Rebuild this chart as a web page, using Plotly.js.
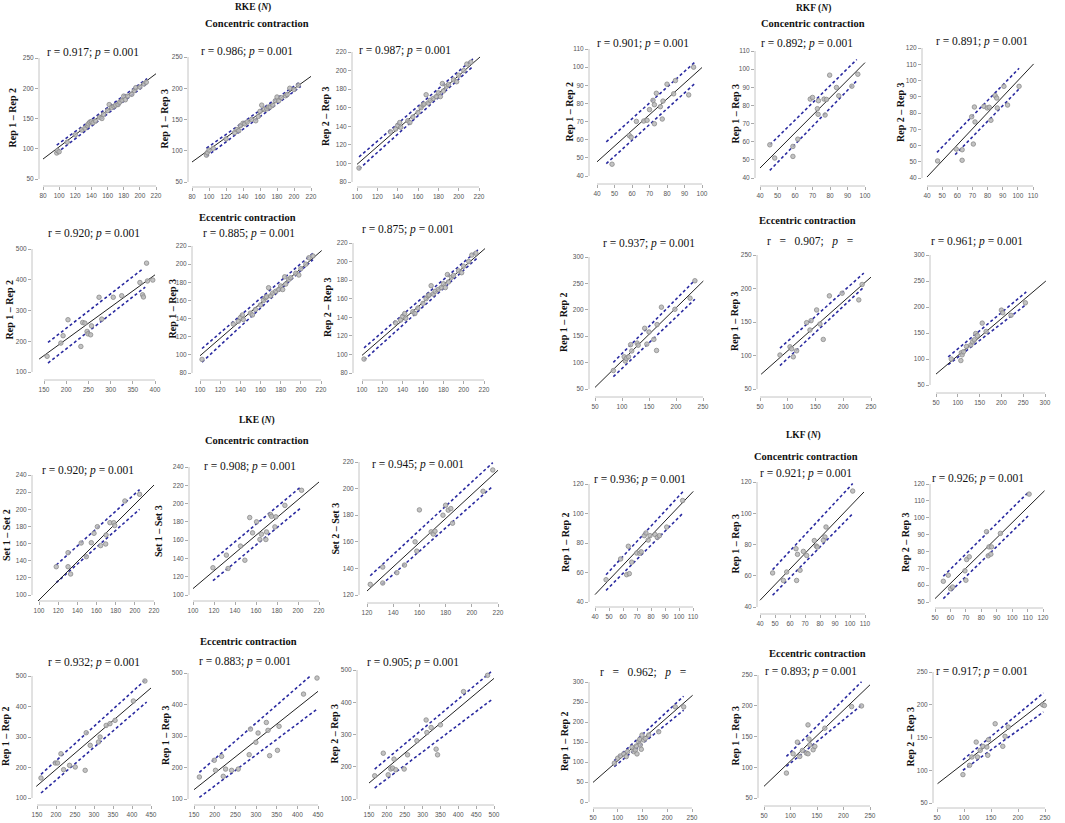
<!DOCTYPE html>
<html><head><meta charset="utf-8">
<script src="https://cdn.plot.ly/plotly-3.0.1.min.js"></script>
<style>html,body{margin:0;padding:0;background:#fff}#chart{width:1065px;height:823px}</style>
</head><body><div id="chart"></div>
<script>
// ---------- DATA ----------
// fit = [[x0,x1],[y0,y1]], up/lo = [[x0,x1],[y0,y1]]
// RKE concentric
const rkeC12x = [97,98,100,110,120,128,132,135,136,138,140,142,145,150,153,155,160,162,165,168,170,173,175,178,180,182,185,190,193,195,200,205,208];
const rkeC12y = [93,97,95,111,123,131,134,138,141,144,145,143,146,152,150,157,163,173,168,170,172,173,177,180,187,181,187,190,196,201,202,207,210];
const rkeC12fit = [[80,220],[83,224]], rkeC12up = [[97,209],[106,216]], rkeC12lo = [[97,209],[93,208]];
const rkeC13x = [97,98,100,105,120,130,133,135,137,140,142,145,150,155,158,160,162,165,168,170,172,175,178,180,182,185,190,192,195,200,205];
const rkeC13y = [93,97,101,104,119,129,134,132,140,144,143,146,150,148,155,163,173,166,167,170,170,173,180,186,180,185,188,190,200,198,205];
const rkeC13fit = [[80,220],[82,219]], rkeC13up = [[97,208],[104,211]], rkeC13lo = [[97,208],[91,203]];
const rkeC23x = [102,133,138,140,142,143,150,152,155,160,163,165,166,168,170,172,175,178,180,182,184,185,188,190,195,198,200,205,208,212];
const rkeC23y = [95,134,137,141,144,139,146,144,150,155,160,163,164,174,165,168,170,172,176,172,186,178,183,185,190,188,195,200,207,209];
const rkeC23fit = [[100,221],[99,214.6]], rkeC23up = [[102,214],[107,212.5]], rkeC23lo = [[102,214],[94,204.5]];
// RKF concentric
const rkfC12x = [48.6,58.5,59.5,62.5,66.7,68.6,70,72,72.8,72.8,73.9,76.2,77.3,77.7,80,83.8,84.8,92.4,95.2];
const rkfC12y = [46.5,62.3,61.4,70.1,70.3,70.7,76.6,81.7,79.3,68.8,85.6,78.2,71.4,81.3,90.6,85.3,92.6,84.7,100];
const rkfC12fit = [[40,100],[47.8,99.8]], rkfC12up = [[45.3,96.2],[58.8,103]], rkfC12lo = [[45.3,96.2],[46.8,91.2]];
const rkfC13x = [45.6,48.4,58.8,58.8,61.6,68.7,70,72.8,73.2,73.4,76.6,77.2,78,79.8,83.7,85,92.5,95.9];
const rkfC13y = [58.3,51,57.4,51.9,61.4,83.5,84.4,78.2,75.1,82.6,83.5,74.7,83.3,96.7,89.9,85.3,90.6,97.2];
const rkfC13fit = [[40,100],[45.5,103.6]], rkfC13up = [[45.6,95.3],[58.3,105.3]], rkfC13lo = [[45.6,95.3],[44.2,93.6]];
const rkfC23x = [47,59.3,63.2,63.2,69.5,70.6,71.3,71.7,77.6,79.8,81.1,82.2,85,86,86.4,90.8,93.2,100.8];
const rkfC23y = [50.5,57.8,50.9,57.4,77.7,60.9,83.7,74.5,84.1,83.1,83.5,75.5,90.7,89.2,83.1,96.4,84.9,96.4];
const rkfC23fit = [[40,110.4],[40.6,110.2]], rkfC23up = [[46.6,100.8],[55.8,107.5]], rkfC23lo = [[58.6,100.8],[54.4,94.8]];
// RKE eccentric
const rkeE12x = [157,188,193,204,233,237,242,247,249,255,257,274,280,306,325,366,372,374,381,383,395];
const rkeE12y = [151,194,218,270,183,261,259,232,224,221,250,343,272,343,348,391,351,344,454,396,399];
const rkeE12fit = [[139,400],[142,416]], rkeE12up = [[159,374],[196,437]], rkeE12lo = [[159,378],[129,376]];
const rkeE13x = [102,133,138,140,142,143,150,152,155,160,163,165,166,168,170,172,175,178,180,182,184,185,188,190,195,198,200,205,208,212];
const rkeE13y = [95,134,137,141,144,139,146,144,150,155,160,163,164,174,165,168,170,172,176,172,186,178,183,185,190,188,195,200,207,209];
const rkeE13fit = [[100,220.7],[99,215]], rkeE13up = [[102,212],[107,212]], rkeE13lo = [[102,212],[92,205]];
const rkeE23x = [102,133,138,140,142,143,150,152,155,160,163,165,166,168,170,172,175,178,180,182,184,185,188,190,195,198,200,205,208,212];
const rkeE23y = [95,134,137,141,144,139,146,144,150,155,160,163,164,174,165,168,170,172,176,172,186,178,183,185,190,188,195,200,207,209];
const rkeE23fit = [[100,221],[99,214]], rkeE23up = [[102,214],[107,212.5]], rkeE23lo = [[102,214],[94,204.5]];
// RKF eccentric
const rkfE12x = [84,104,106,108,112,116,118,128,130,142,146,150,159,164,165,173,198,226,235];
const rkfE12y = [85,111,103,108,111,134,122,137,133,165,135,158,144,123,172,205,201,222,255];
const rkfE12fit = [[50,250.6],[53,254.5]], rkfE12up = [[84,235],[100.5,256]], rkfE12lo = [[84,235],[73.4,220]];
const rkfE13x = [86,104,107,110,116,134,140,142,152,158,164,175,198,228,234];
const rkfE13y = [100.7,113,110,98,107,149,138,152,168,147,124,189,193,183,206];
const rkfE13fit = [[52,250],[72,217]], rkfE13up = [[86,237],[111,223]], rkfE13lo = [[86,237],[85,202]];
const rkfE23x = [85,107,108,110,113,120,130,134,138,141,145,156,165,200,203,222,255];
const rkfE23y = [100,97,112,108,114,124,127,133,137,149,145,169,153,194,189,184,208];
const rkfE23fit = [[50,302],[71,250]], rkfE23up = [[78,257],[104,229]], rkfE23lo = [[78,257],[89,205]];
// LKE concentric
const lkeC12x = [118,130.3,130.3,133,144,149.4,154.6,157.4,160.9,164.3,170,169.6,174,178,179,189.6,205];
const lkeC12y = [133,149.4,133,124.5,160.7,144.7,161,172,179.7,157.6,170,159.5,184.4,184.4,181,209.7,217.5];
const lkeC12fit = [[99,220],[93,228.3]], lkeC12up = [[118,205],[135,223]], lkeC12lo = [[118,205],[114.4,200]];
const lkeC13x = [119,131.8,133.4,145.2,149.4,154,156.7,160.5,163.7,165.2,169.4,170,173.8,174.8,178,178.9,187.5,203.4];
const lkeC13y = [129.8,143.6,129,153.5,138,184.7,168,180,160.7,166.5,160.7,169,188,186,174.5,185.5,198,214.5];
const lkeC13fit = [[100,220],[107,223.6]], lkeC13up = [[119,203.4],[138,219]], lkeC13lo = [[119,203.4],[115.6,196]];
const lkeC23x = [122.5,132,132,142.8,148.6,156.7,158,160,169,170.6,171.9,178,180,182,184,185.3,208.6,216];
const lkeC23y = [128,141,129,136.8,142.5,160,153,184,167.5,165.8,168,180,187.5,183.8,185,174,198,214];
const lkeC23fit = [[120,220],[123,213.8]], lkeC23up = [[122.5,216],[134.5,219.5]], lkeC23lo = [[131.4,216],[128,201.8]];
// LKF concentric
const lkfC12x = [47.9,58.3,62.6,63.8,64.5,66.2,69.8,72,73,75.2,76.4,78,79.3,82.9,84.5,86,91.2,102.6];
const lkfC12y = [55.1,69.2,58.5,77.8,59.2,67,73.2,73,74,85,86.8,82,85,85.7,83.8,85,90.8,108.8];
const lkfC12fit = [[40,110.2],[45,115]], lkfC12up = [[47.9,103],[58.5,115]], lkfC12lo = [[47.9,103],[47.9,100.4]];
const lkfC13x = [48.4,55.6,57.8,64,65,66.7,64.4,68.9,71.1,76.2,77.5,78.2,83.3,84,82.2,101.8];
const lkfC13y = [61.8,57,62.4,77.3,73.7,63.5,57,75.6,73,82.5,79,78.4,84.8,91.2,82.7,114.2];
const lkfC13fit = [[40,109.3],[44.3,113.6]], lkfC13up = [[48.4,101.8],[63.9,119]], lkfC13lo = [[48.4,101.8],[47.5,99.7]];
const lkfC23x = [55.4,58.6,60.1,61.4,69.4,70.5,72.2,70,83.4,84.5,86.2,85,86.6,92.4,111];
const lkfC23y = [62.3,65.9,57.9,58.9,68.5,75.2,76.8,62.9,91.7,77.4,78.4,82.7,82.7,90.7,114];
const lkfC23fit = [[50,121],[52,116]], lkfC23up = [[55.4,110.3],[65.3,114.9]], lkfC23lo = [[55.4,110.3],[52,101]];
// LKE eccentric
const lkeE12x = [160.5,198,204,213,220,235.7,250.6,276.8,279.5,290,311.8,316,332,342,355.4,403.6,434];
const lkeE12y = [165.6,214.8,214.8,245,193,207,201.6,190.7,314,272.7,283.6,300,338,343.7,354.6,418,483.6];
const lkeE12fit = [[148,450],[138,460.7]], lkeE12up = [[160.5,438.6],[177.6,491]], lkeE12lo = [[160.5,438.6],[116.4,414.8]];
const lkeE13x = [163,199,202,216.8,220.8,226.4,241,257,283.5,286.7,299.6,305,325,329,333,351.9,355.8,415,447.6];
const lkeE13y = [169.8,222.8,191,235.4,172,195,191,195,240.7,322,280,309.5,343,318,237.6,254.5,330.7,433,484];
const lkeE13fit = [[150,450],[129.6,441.8]], lkeE13up = [[163,430],[184.7,489]], lkeE13lo = [[163,446],[105,383.6]];
const lkeE23x = [165.9,190,203.7,211,215.9,220,225,248.5,257.9,284,310,312,324,338,342,350,414.7,481.9];
const lkeE23y = [172,242,175,193,196,223.7,190.7,192.8,237,280.4,345,306,321.6,254.6,237,330,433,483.5];
const lkeE23fit = [[150,500],[149.5,474]], lkeE23up = [[165.9,492.5],[192.8,494.8]], lkeE23lo = [[165.9,492.5],[134,407]];
// LKF eccentric
const lkfE12x = [93.1,99.8,105.2,112,117.3,120,128.8,132.2,135.5,137.5,138.9,142.3,144.3,145.6,147.6,149,152.4,155.7,162.5,182.7,216.3,233.2];
const lkfE12y = [97,109.4,115.2,120.2,113.5,126,136.7,126,130,140,120.2,150.8,156.6,142.5,131.8,167.4,155,159,167.4,175.7,237.8,237.8];
const lkfE12fit = [[50,251.3],[49,266.8]], lkfE12up = [[93,233],[103.6,264.4]], lkfE12lo = [[93,233],[88.7,229.5]];
const lkfE13x = [92.3,104.9,113,117.5,122.5,130,133,133,135,136.4,142.7,145.9,164.8,215.3,234];
const lkfE13y = [90.5,121.9,140.8,117.6,127.3,123,121.9,168.9,145.7,136.5,128.4,133.8,163.5,198.6,199.7];
const lkfE13fit = [[50,250],[69,234]], lkfE13up = [[92.3,234],[117.6,239]], lkfE13lo = [[92.3,234],[101.4,201]];
const lkfE23x = [98,110.3,114.6,122.6,125,130,135,142.3,144,145.4,157.7,171.8,176,182,245.7,248.8];
const lkfE23y = [93.3,107.5,120.2,143,120.2,130.4,136.5,135.5,122.8,146.7,171,136.5,151.8,166,200,199];
const lkfE23fit = [[51,252],[79.5,207.8]], lkfE23up = [[98,247],[116,218]], lkfE23lo = [[98,247],[100,189]];

// tick specs [first, last, step]
const xTicks = [[80,220,20],[80,220,20],[100,220,20],[40,100,10],[40,100,10],[40,110,10],
  [150,400,50],[100,220,20],[100,220,20],[50,250,50],[50,250,50],[50,300,50],
  [100,220,20],[100,220,20],[120,220,20],[40,110,10],[40,110,10],[50,120,10],
  [150,450,50],[150,450,50],[150,500,50],[50,250,50],[50,250,50],[50,250,50]];
const yTicks = [[50,250,50],[50,250,50],[80,220,20],[40,110,10],[40,110,10],[40,120,10],
  [100,500,100],[80,220,20],[80,220,20],[50,300,50],[50,250,50],[50,300,50],
  [100,240,20],[100,240,20],[120,220,20],[40,120,20],[40,120,20],[50,120,10],
  [100,500,100],[100,500,100],[100,500,100],[0,300,50],[50,250,50],[50,250,50]];

const NB = '\u00a0';
const panelTitles = [
  'r = 0.917; <i>p</i> = 0.001','r = 0.986; <i>p</i> = 0.001','r = 0.987; <i>p</i> = 0.001',
  'r = 0.901; <i>p</i> = 0.001','r = 0.892; <i>p</i> = 0.001','r = 0.891; <i>p</i> = 0.001',
  'r = 0.920; <i>p</i> = 0.001','r = 0.885; <i>p</i> = 0.001','r = 0.875; <i>p</i> = 0.001',
  'r = 0.937; <i>p</i> = 0.001','r'+NB+NB+NB+'='+NB+NB+NB+'0.907;'+NB+NB+NB+'<i>p</i>'+NB+NB+NB+'=','r = 0.961; <i>p</i> = 0.001',
  'r = 0.920; <i>p</i> = 0.001','r = 0.908; <i>p</i> = 0.001','r = 0.945; <i>p</i> = 0.001',
  'r = 0.936; <i>p</i> = 0.001','r = 0.921; <i>p</i> = 0.001','r = 0.926; <i>p</i> = 0.001',
  'r = 0.932; <i>p</i> = 0.001','r = 0.883; <i>p</i> = 0.001','r = 0.905; <i>p</i> = 0.001',
  'r'+NB+NB+NB+'='+NB+NB+NB+'0.962;'+NB+NB+NB+'<i>p</i>'+NB+NB+NB+'=','r = 0.893; <i>p</i> = 0.001','r = 0.917; <i>p</i> = 0.001'];
const yLabels = ['Rep 1 – Rep 2','Rep 1 – Rep 3','Rep 2 – Rep 3','Rep 1 – Rep 2','Rep 1 – Rep 3','Rep 2 – Rep 3',
  'Rep 1 – Rep 2','Rep 1 – Rep 3','Rep 2 – Rep 3','Rep 1 – Rep 2','Rep 1 – Rep 3','',
  'Set 1 – Set 2','Set 1 – Set 3','Set 2 – Set 3','Rep 1 – Rep 2','Rep 1 – Rep 3','Rep 2 – Rep 3',
  'Rep 1 – Rep 2','Rep 1 – Rep 3','Rep 2 – Rep 3','Rep 1 – Rep 2','Rep 1 – Rep 3','Rep 2 – Rep 3'];
const headings = ['<b>RKE (<i>N</i>)</b>','<b>Concentric contraction</b>','<b>Eccentric contraction</b>',
  '<b>LKE (<i>N</i>)</b>','<b>Concentric contraction</b>','<b>Eccentric contraction</b>',
  '<b>RKF (<i>N</i>)</b>','<b>Concentric contraction</b>','<b>Eccentric contraction</b>',
  '<b>LKF (<i>N</i>)</b>','<b>Concentric contraction</b>','<b>Eccentric contraction</b>'];

const series = [
  [rkeC12x,rkeC12y,rkeC12fit,rkeC12up,rkeC12lo],[rkeC13x,rkeC13y,rkeC13fit,rkeC13up,rkeC13lo],[rkeC23x,rkeC23y,rkeC23fit,rkeC23up,rkeC23lo],
  [rkfC12x,rkfC12y,rkfC12fit,rkfC12up,rkfC12lo],[rkfC13x,rkfC13y,rkfC13fit,rkfC13up,rkfC13lo],[rkfC23x,rkfC23y,rkfC23fit,rkfC23up,rkfC23lo],
  [rkeE12x,rkeE12y,rkeE12fit,rkeE12up,rkeE12lo],[rkeE13x,rkeE13y,rkeE13fit,rkeE13up,rkeE13lo],[rkeE23x,rkeE23y,rkeE23fit,rkeE23up,rkeE23lo],
  [rkfE12x,rkfE12y,rkfE12fit,rkfE12up,rkfE12lo],[rkfE13x,rkfE13y,rkfE13fit,rkfE13up,rkfE13lo],[rkfE23x,rkfE23y,rkfE23fit,rkfE23up,rkfE23lo],
  [lkeC12x,lkeC12y,lkeC12fit,lkeC12up,lkeC12lo],[lkeC13x,lkeC13y,lkeC13fit,lkeC13up,lkeC13lo],[lkeC23x,lkeC23y,lkeC23fit,lkeC23up,lkeC23lo],
  [lkfC12x,lkfC12y,lkfC12fit,lkfC12up,lkfC12lo],[lkfC13x,lkfC13y,lkfC13fit,lkfC13up,lkfC13lo],[lkfC23x,lkfC23y,lkfC23fit,lkfC23up,lkfC23lo],
  [lkeE12x,lkeE12y,lkeE12fit,lkeE12up,lkeE12lo],[lkeE13x,lkeE13y,lkeE13fit,lkeE13up,lkeE13lo],[lkeE23x,lkeE23y,lkeE23fit,lkeE23up,lkeE23lo],
  [lkfE12x,lkfE12y,lkfE12fit,lkfE12up,lkfE12lo],[lkfE13x,lkfE13y,lkfE13fit,lkfE13up,lkfE13lo],[lkfE23x,lkfE23y,lkfE23fit,lkfE23up,lkfE23lo]];

// ---------- LAYOUT GEOMETRY (pixels) ----------
// [xPix first,last], [yPix first(bottom),last(top)], leftAxisX, bottomAxisY, titleX, titleY, ylabelX
const geo = [
  [[43,156],[179,58],39,186,93,53,12],[[192,311],[182,57],188,187,247,52,164],[[357,479],[182,52],352,187,405,51,325],
  [[597,702],[176,49],589,184,643,43,569],[[760,865],[178,51],755,186,807,43,735],[[927,1033],[178,48],922,186,982,41,900],
  [[44,155],[372,249],32,380,94,234,9],[[200,321],[373,246],192,380,249,233,172],[[362,484],[373,243],353,380,408,230,327],
  [[595,703],[389,257],589,397,649,243,564],[[760,871],[389,255],757,397,810,242,734],[[936,1045],[385,255],930,393,977,242,908],
  [[39,154],[595,475],32,601,88,470,6],[[193,319],[595,467],189,601,250,466,158],[[367,498],[595,462],359,603,418,464,335],
  [[595,693],[602,484],589,607,640,480,565],[[760,865],[607,482],757,614,806,474,735],[[935,1043],[602,484],930,608,978,478,905],
  [[37,151],[798,676],32,805,94,662,5],[[194,318],[799,673],188,805,245,661,165],[[369,494],[799,670],357,805,413,662,334],
  [[593,692],[802,682],589,808,643,672,564],[[764,870],[798,675],758,806,811,671,735],[[937,1045],[803,672],933,808,982,671,910]];
const headPos = [[253,8],[257,23],[247,217],[257,420],[257,440],[248,641],[813,9],[813,23],[807,221],[803,436],[806,456],[817,653]];

const W = 1065, H = 823;
const traces = [], shapes = [], annotations = [];
const layout = {width:W, height:H, margin:{l:0,r:0,t:0,b:0}, paper_bgcolor:'#fff', plot_bgcolor:'rgba(0,0,0,0)', showlegend:false};
const serif = 'Liberation Serif, Times New Roman, serif';

function ticksOf(t){ const v=[]; for(let a=t[0]; a<=t[1]+1e-9; a+=t[2]) v.push(a); return v; }

series.forEach((s, i) => {
  const k = i + 1, xa = 'x' + k, ya = 'y' + k;
  const g = geo[i], xt = xTicks[i], yt = yTicks[i];
  const ppx = (g[0][1]-g[0][0])/(xt[1]-xt[0]);
  const padL = g[0][0]-g[2];
  const ppy = (g[1][0]-g[1][1])/(yt[1]-yt[0]);
  const padB = g[3]-g[1][0];
  const xr = [xt[0]-padL/ppx, xt[1]+padL/ppx];
  const yr = [yt[0]-padB/ppy, yt[1]+padB/ppy];
  const domX = [g[2]/W, (g[0][1]+padL)/W];
  const domY = [1-g[3]/H, 1-(g[1][1]-padB)/H];
  const ax = {showgrid:false, zeroline:false, showline:false, ticks:'outside', ticklen:3, tickwidth:1,
    tickcolor:'#aaa', tickfont:{family:'Liberation Sans, Arial, sans-serif', size:6.5, color:'#555'}, fixedrange:true, tickmode:'array'};
  layout['xaxis'+k] = Object.assign({}, ax, {domain:domX, range:xr, anchor:ya, tickvals:ticksOf(xt)});
  layout['yaxis'+k] = Object.assign({}, ax, {domain:domY, range:yr, anchor:xa, tickvals:ticksOf(yt)});
  // axis lines spanning the tick range (R style)
  shapes.push({type:'line', xref:xa, yref:ya+' domain', x0:xt[0], x1:xt[1], y0:0, y1:0, line:{color:'#c4c4c4', width:1}});
  shapes.push({type:'line', xref:xa+' domain', yref:ya, x0:0, x1:0, y0:yt[0], y1:yt[1], line:{color:'#c4c4c4', width:1}});
  // bands
  traces.push({type:'scatter', mode:'lines', x:s[3][0], y:s[3][1], xaxis:xa, yaxis:ya, line:{color:'#2a2aa0', width:1.6, dash:'3px,2.5px'}, hoverinfo:'skip'});
  traces.push({type:'scatter', mode:'lines', x:s[4][0], y:s[4][1], xaxis:xa, yaxis:ya, line:{color:'#2a2aa0', width:1.6, dash:'3px,2.5px'}, hoverinfo:'skip'});
  // fit
  traces.push({type:'scatter', mode:'lines', x:s[2][0], y:s[2][1], xaxis:xa, yaxis:ya, line:{color:'#222', width:1}, hoverinfo:'skip'});
  // points
  traces.push({type:'scatter', mode:'markers', x:s[0], y:s[1], xaxis:xa, yaxis:ya, cliponaxis:false,
    marker:{symbol:'circle', size:4.5, color:'rgba(185,185,185,0.85)', line:{color:'#8a8a8a', width:0.8}}});
  // titles
  annotations.push({xref:'paper', yref:'paper', x:g[4]/W, y:1-g[5]/H, text:panelTitles[i], showarrow:false,
    xanchor:'center', yanchor:'middle', font:{family:serif, size:11.5, color:'#111'}});
  if (yLabels[i]) annotations.push({xref:'paper', yref:'paper', x:g[6]/W, y:1-((g[1][0]+g[1][1])/2)/H, text:'<b>'+yLabels[i]+'</b>',
    showarrow:false, textangle:-90, xanchor:'center', yanchor:'middle', font:{family:serif, size:10, color:'#111'}});
});
headings.forEach((h, j) => {
  annotations.push({xref:'paper', yref:'paper', x:headPos[j][0]/W, y:1-headPos[j][1]/H, text:h, showarrow:false,
    xanchor:'center', yanchor:'middle', font:{family:serif, size:(j%3===0?9.5:10.5), color:'#111'}});
});
layout.shapes = shapes; layout.annotations = annotations;
Plotly.newPlot('chart', traces, layout, {displayModeBar:false, staticPlot:true});
</script></body></html>
